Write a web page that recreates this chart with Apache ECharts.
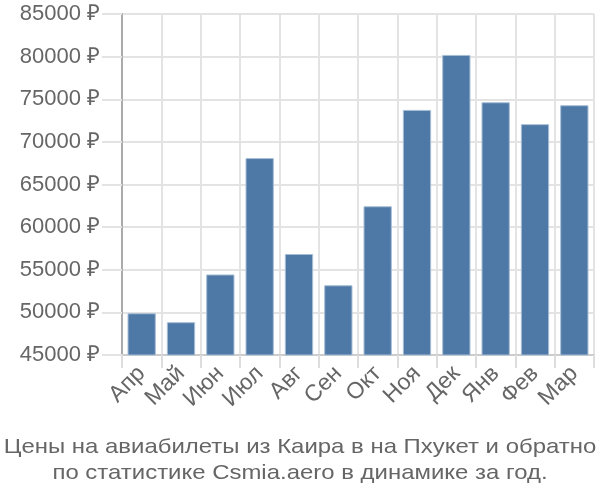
<!DOCTYPE html>
<html><head><meta charset="utf-8">
<script src="https://cdn.jsdelivr.net/npm/echarts@6/dist/echarts.min.js"></script>
<style>html,body{margin:0;padding:0;background:#fff}#c{width:600px;height:500px}</style>
</head><body><div id="c"></div>
<script>
var categories = ['Апр','Май','Июн','Июл','Авг','Сен','Окт','Ноя','Дек','Янв','Фев','Мар'];
var prices = [49900, 48850, 54450, 68100, 56850, 53180, 62450, 73750, 80200, 74650, 72080, 74300];
var titleLines = ['Цены на авиабилеты из Каира в на Пхукет и обратно', 'по статистике Csmia.aero в динамике за год.'];
var chart = echarts.init(document.getElementById('c'), null, {renderer:'canvas'});
chart.setOption({
  animation:false,
  graphic:[{type:'text',x:300,y:460,scaleX:1.14,originX:0,originY:0,
    style:{text:titleLines.join('\n'),fontFamily:'Liberation Sans',fontSize:21,fill:'#666',
      align:'center',verticalAlign:'middle',lineHeight:26}}],
  grid:{left:122,right:6,top:14,bottom:145,containLabel:false},
  xAxis:{type:'category',data:categories,
    axisLine:{lineStyle:{color:'#ccc',width:2}},
    axisTick:{show:true,length:13,lineStyle:{color:'#ddd',width:2}},
    splitLine:{show:true,lineStyle:{color:'#e3e3e3',width:2}},
    axisLabel:{interval:0,rotate:45,fontFamily:'Liberation Sans',fontSize:23,color:'#666',margin:15}},
  yAxis:{type:'value',min:45000,max:85000,interval:5000,
    axisLine:{show:true,lineStyle:{color:'#aaa',width:2}},
    axisTick:{show:true,length:20,lineStyle:{color:'#e3e3e3',width:2}},
    splitLine:{lineStyle:{color:'#e3e3e3',width:2}},
    axisLabel:{formatter:function(v){return v + ' ₽';},fontFamily:'Liberation Sans',fontSize:22,color:'#666',margin:22}},
  series:[{type:'bar',data:prices,barCategoryGap:'28%',
    itemStyle:{color:'#4e79a7',borderColor:'#a9bfd6',borderWidth:1}}]
});
</script></body></html>
